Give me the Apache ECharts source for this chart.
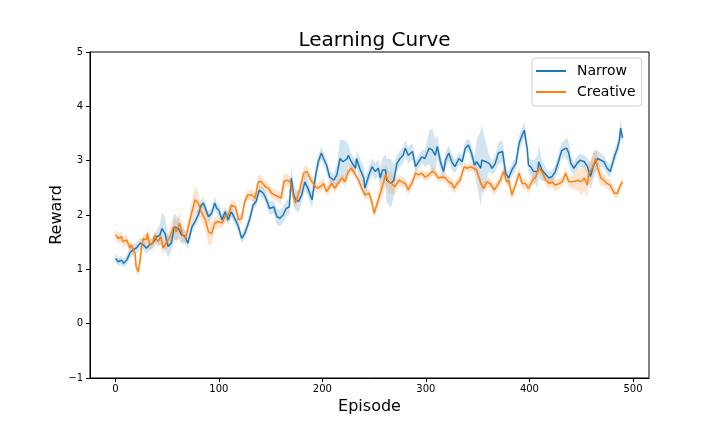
<!DOCTYPE html>
<html><head><meta charset="utf-8">
<script src="https://cdn.jsdelivr.net/npm/echarts@6/dist/echarts.min.js"></script>
<style>html,body{margin:0;padding:0;background:#fff}#c{width:720px;height:432px}</style>
</head><body><div id="c"></div>
<script>
const chartTitle = 'Learning Curve';
const xName = 'Episode';
const yName = 'Reward';
const seriesNames = ['Narrow', 'Creative'];
const xTicks = [0, 100, 200, 300, 400, 500];

const narrowEp = [0,3,6,8,11,14,17,20,24,27,30,33,36,40,43,45,48,51,54,57,61,64,67,70,74,77,80,83,85,87,90,93,96,98,100,103,106,109,112,116,119,122,125,128,130,133,136,139,143,146,149,153,156,159,162,165,168,170,172,174,177,180,183,186,190,193,196,199,201,204,207,211,214,217,220,224,225,228,232,233,236,240,241,245,248,251,254,256,258,261,262,266,269,272,275,278,280,283,287,290,293,296,299,303,306,309,311,314,317,319,322,325,328,332,335,338,341,344,347,349,353,354,358,361,364,367,370,374,377,380,383,387,390,393,395,396,398,399,401,404,408,409,412,416,419,422,425,428,431,434,436,438,440,443,446,449,453,456,459,462,466,469,472,475,478,482,485,487,488,490];
const narrowMean = [1.20,1.14,1.17,1.11,1.17,1.30,1.36,1.39,1.48,1.45,1.39,1.45,1.48,1.60,1.63,1.75,1.66,1.42,1.48,1.78,1.75,1.63,1.62,1.48,1.78,1.88,2.00,2.18,2.22,2.12,1.97,2.03,2.22,2.12,2.09,1.91,2.06,1.91,2.06,1.91,1.78,1.57,1.66,1.82,1.94,2.18,2.25,2.46,2.40,2.28,2.12,2.15,1.97,1.94,2.00,2.12,2.15,2.68,2.40,2.28,2.25,2.37,2.61,2.49,2.28,2.68,2.98,3.14,3.04,2.92,2.70,2.64,2.74,3.04,2.98,3.04,3.10,2.98,2.86,3.04,2.86,2.68,2.49,2.74,2.89,2.80,2.86,2.68,2.83,2.83,2.64,2.58,2.64,2.95,3.04,3.10,3.23,3.10,3.17,2.89,2.98,3.07,3.04,3.23,3.20,3.10,3.26,2.98,2.80,3.01,3.14,2.98,2.89,3.04,2.98,3.23,3.29,3.14,2.92,2.98,2.86,3.01,2.98,2.95,2.86,2.95,3.14,3.17,2.77,2.68,2.83,2.95,3.32,3.47,3.56,3.44,3.20,2.92,2.89,2.80,2.80,2.98,2.83,2.74,2.68,2.71,2.80,2.98,3.18,3.22,3.23,3.14,2.95,2.86,2.95,3.01,2.98,2.89,2.71,2.92,3.04,3.01,2.98,2.86,2.80,3.07,3.23,3.38,3.60,3.42];
const narrowStd = [0.08,0.08,0.08,0.08,0.08,0.10,0.10,0.10,0.10,0.10,0.10,0.10,0.10,0.12,0.20,0.30,0.30,0.20,0.15,0.25,0.20,0.15,0.12,0.10,0.12,0.10,0.12,0.10,0.10,0.10,0.10,0.10,0.12,0.10,0.10,0.10,0.10,0.10,0.10,0.10,0.10,0.08,0.10,0.10,0.10,0.10,0.10,0.10,0.10,0.12,0.12,0.12,0.15,0.15,0.15,0.15,0.15,0.20,0.20,0.20,0.20,0.15,0.15,0.15,0.15,0.15,0.12,0.12,0.12,0.12,0.12,0.12,0.20,0.35,0.40,0.30,0.20,0.15,0.15,0.15,0.20,0.20,0.20,0.15,0.15,0.15,0.15,0.20,0.20,0.30,0.40,0.45,0.30,0.15,0.15,0.15,0.15,0.15,0.15,0.12,0.12,0.12,0.15,0.30,0.40,0.30,0.20,0.15,0.15,0.15,0.15,0.15,0.12,0.12,0.12,0.12,0.12,0.15,0.15,0.40,0.70,0.65,0.35,0.15,0.12,0.15,0.20,0.20,0.15,0.12,0.12,0.12,0.15,0.15,0.15,0.15,0.15,0.15,0.15,0.20,0.30,0.30,0.20,0.12,0.12,0.12,0.12,0.15,0.15,0.15,0.20,0.20,0.15,0.12,0.12,0.12,0.12,0.15,0.25,0.25,0.15,0.12,0.12,0.12,0.12,0.12,0.12,0.15,0.15,0.15,0.15];

const creativeEp = [0,3,6,7,11,14,15,19,20,22,24,25,27,30,31,33,36,38,41,44,46,49,52,56,59,62,65,68,70,74,77,80,83,87,90,93,96,99,103,106,109,112,116,119,122,125,128,132,135,138,141,145,148,151,154,157,160,163,166,169,172,174,176,178,182,185,188,191,195,198,201,204,207,209,212,215,219,222,225,228,232,235,238,241,245,248,250,253,256,259,261,264,267,270,274,277,280,283,287,290,293,296,299,303,306,309,312,316,319,322,325,327,330,333,337,340,343,346,349,353,356,359,362,366,369,372,375,378,380,383,387,390,393,396,399,403,406,409,412,416,419,422,425,429,432,435,438,441,444,447,450,453,456,457,461,464,466,469,472,475,478,482,485,486,488,490];
const creativeMean = [1.63,1.57,1.60,1.51,1.54,1.39,1.45,1.30,1.05,0.96,1.17,1.39,1.57,1.54,1.66,1.45,1.48,1.63,1.51,1.60,1.39,1.48,1.57,1.78,1.69,1.85,1.63,1.58,1.75,2.06,2.28,2.22,2.06,1.91,1.69,1.66,1.85,1.88,1.85,1.97,2.00,2.18,2.15,1.91,1.94,2.25,2.37,2.37,2.31,2.61,2.61,2.52,2.49,2.40,2.37,2.34,2.31,2.62,2.64,2.61,2.34,2.22,2.34,2.46,2.77,2.80,2.68,2.58,2.49,2.52,2.58,2.43,2.52,2.58,2.49,2.58,2.68,2.61,2.80,2.86,2.74,2.64,2.49,2.37,2.40,2.22,2.03,2.22,2.40,2.60,2.74,2.61,2.58,2.52,2.64,2.61,2.58,2.46,2.61,2.77,2.74,2.77,2.70,2.74,2.80,2.77,2.68,2.70,2.68,2.61,2.58,2.49,2.58,2.64,2.89,2.86,2.89,2.86,2.83,2.58,2.49,2.61,2.58,2.46,2.55,2.64,2.80,2.61,2.64,2.37,2.58,2.77,2.58,2.58,2.49,2.64,2.70,2.86,2.80,2.64,2.58,2.61,2.55,2.58,2.62,2.77,2.61,2.61,2.62,2.64,2.61,2.68,2.55,2.74,2.89,3.04,2.86,2.68,2.64,2.58,2.55,2.40,2.40,2.46,2.55,2.61];
const creativeStd = [0.10,0.10,0.10,0.10,0.10,0.10,0.10,0.10,0.10,0.10,0.10,0.10,0.10,0.10,0.10,0.10,0.10,0.10,0.10,0.12,0.12,0.12,0.15,0.20,0.20,0.20,0.15,0.12,0.15,0.20,0.25,0.20,0.15,0.20,0.25,0.20,0.12,0.12,0.10,0.10,0.10,0.10,0.10,0.10,0.10,0.10,0.10,0.10,0.10,0.12,0.12,0.10,0.10,0.10,0.10,0.10,0.12,0.15,0.12,0.10,0.10,0.10,0.10,0.10,0.12,0.12,0.10,0.10,0.10,0.10,0.10,0.10,0.10,0.10,0.10,0.08,0.08,0.08,0.08,0.08,0.08,0.08,0.08,0.08,0.10,0.10,0.10,0.12,0.15,0.20,0.20,0.20,0.20,0.15,0.10,0.10,0.10,0.10,0.10,0.10,0.08,0.08,0.08,0.08,0.08,0.08,0.08,0.08,0.08,0.10,0.10,0.10,0.10,0.10,0.08,0.08,0.08,0.08,0.08,0.10,0.10,0.10,0.10,0.10,0.10,0.10,0.10,0.10,0.10,0.10,0.10,0.10,0.10,0.10,0.10,0.10,0.10,0.10,0.10,0.10,0.10,0.10,0.10,0.10,0.10,0.10,0.10,0.12,0.15,0.20,0.25,0.25,0.25,0.20,0.20,0.20,0.20,0.15,0.12,0.10,0.10,0.08,0.08,0.08,0.08,0.08];

const FONT = 'DejaVu Sans';
const BLUE = '#1f77b4', ORANGE = '#ff7f0e';

function bandSeries(ep, mean, std, fill) {
  return {
    type: 'custom', silent: true, animation: false,
    data: [[ep[0], mean[0]]],
    encode: { x: 0, y: 1 },
    renderItem: function (params, api) {
      if (params.dataIndex !== 0) return null;
      const up = ep.map((e, i) => api.coord([e, mean[i] + std[i]]));
      const lo = ep.map((e, i) => api.coord([e, mean[i] - std[i]])).reverse();
      return { type: 'polygon', shape: { points: up.concat(lo) }, style: { fill: fill, stroke: null } };
    }
  };
}
function lineSeries(name, ep, mean, color) {
  return {
    name: name, type: 'line', showSymbol: false, symbol: 'none', animation: false,
    data: ep.map((e, i) => [e, mean[i]]),
    lineStyle: { color: color, width: 1.5 }, itemStyle: { color: color }
  };
}
const minusFmt = v => String(v).replace('-', '\u2212');

const chart = echarts.init(document.getElementById('c'), null, { renderer: 'canvas' });
chart.setOption({
  backgroundColor: '#fff',
  animation: false,
  title: {
    text: chartTitle, left: 369.5, top: 26, textAlign: 'center',
    textStyle: { fontFamily: FONT, fontSize: 20, fontWeight: 'normal', color: '#000' }
  },
  legend: {
    orient: 'vertical', left: 532, top: 58, padding: [6, 6, 7, 4],
    itemWidth: 30, itemHeight: 2, itemGap: 7, icon: 'rect',
    backgroundColor: 'rgba(255,255,255,0.8)', borderColor: '#cccccc', borderWidth: 1, borderRadius: 3,
    textStyle: { fontFamily: FONT, fontSize: 14, color: '#000', padding: [0, 0, 0, 6] },
    data: seriesNames
  },
  grid: { left: 90, right: 71, top: 52, bottom: 54, show: true, borderColor: '#000', borderWidth: 1, backgroundColor: 'transparent' },
  xAxis: {
    type: 'value', min: -24.5, max: 515.5,
    name: xName, nameLocation: 'middle', nameGap: 21, nameMoveOverlap: false,
    nameTextStyle: { fontFamily: FONT, fontSize: 16, color: '#000', verticalAlign: 'top' },
    axisLine: { show: true, onZero: false, lineStyle: { color: '#000', width: 1 } },
    axisTick: { show: true, inside: false, length: 4, lineStyle: { color: '#000' }, customValues: xTicks },
    axisLabel: { fontFamily: FONT, fontSize: 10, color: '#000', margin: 6, customValues: xTicks, formatter: minusFmt },
    splitLine: { show: false }
  },
  yAxis: {
    type: 'value', min: -1, max: 5, interval: 1,
    name: yName, nameLocation: 'middle', nameGap: 25, nameMoveOverlap: false,
    nameTextStyle: { fontFamily: FONT, fontSize: 16, color: '#000' },
    axisLine: { show: true, onZero: false, lineStyle: { color: '#000', width: 1 } },
    axisTick: { show: true, inside: false, length: 4, lineStyle: { color: '#000' } },
    axisLabel: { fontFamily: FONT, fontSize: 10, color: '#000', margin: 7, formatter: minusFmt },
    splitLine: { show: false }
  },
  series: [
    bandSeries(narrowEp, narrowMean, narrowStd, 'rgba(31,119,180,0.2)'),
    lineSeries(seriesNames[0], narrowEp, narrowMean, BLUE),
    bandSeries(creativeEp, creativeMean, creativeStd, 'rgba(255,127,14,0.2)'),
    lineSeries(seriesNames[1], creativeEp, creativeMean, ORANGE)
  ]
});
</script>
</body></html>
